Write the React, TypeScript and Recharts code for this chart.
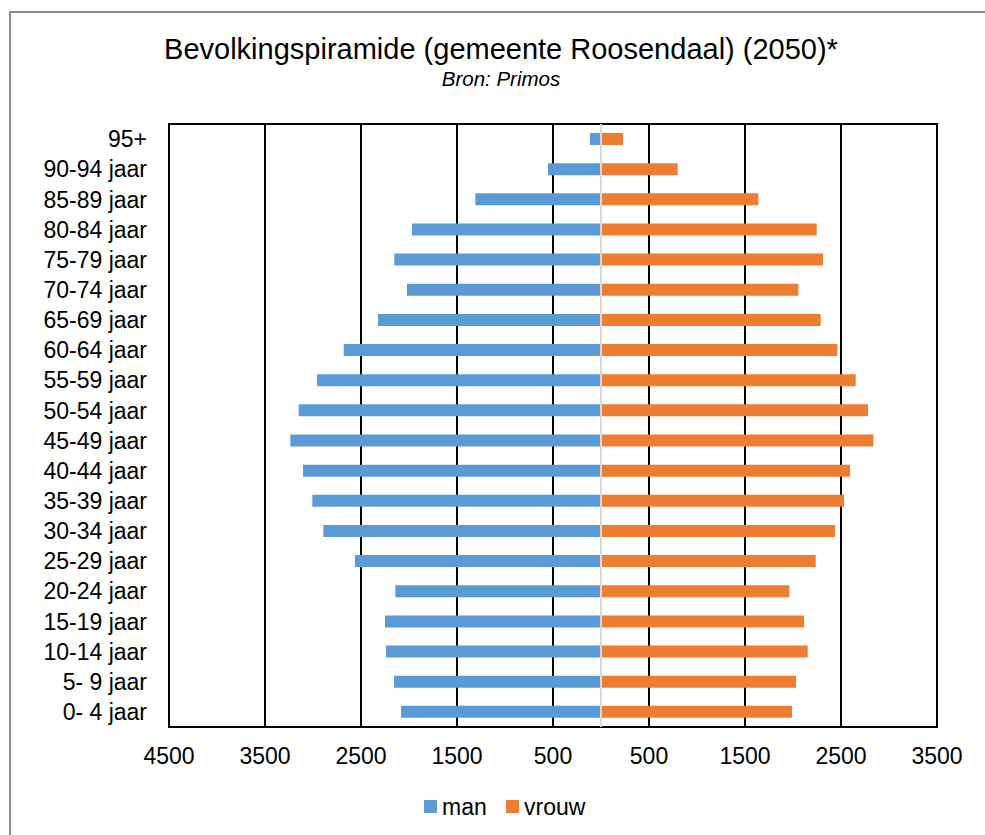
import React from 'react';
import { BarChart, Bar, XAxis, YAxis, CartesianGrid, ReferenceLine, ReferenceArea } from 'recharts';

// Leeftijdsgroepen, van jong naar oud
const ageGroups = [
  '0- 4 jaar', '5- 9 jaar', '10-14 jaar', '15-19 jaar', '20-24 jaar',
  '25-29 jaar', '30-34 jaar', '35-39 jaar', '40-44 jaar', '45-49 jaar',
  '50-54 jaar', '55-59 jaar', '60-64 jaar', '65-69 jaar', '70-74 jaar',
  '75-79 jaar', '80-84 jaar', '85-89 jaar', '90-94 jaar', '95+',
];

const manValues = [
  2083, 2156, 2240, 2250, 2142, 2563, 2892, 3007, 3104, 3236,
  3149, 2958, 2680, 2323, 2021, 2153, 1969, 1309, 552, 115,
];

const vrouwValues = [
  1990, 2031, 2153, 2115, 1962, 2236, 2438, 2531, 2594, 2837,
  2781, 2653, 2462, 2288, 2056, 2313, 2247, 1639, 799, 229,
];

const xTicks = [-4500, -3500, -2500, -1500, -500, 500, 1500, 2500, 3500];

const seriesNames = ['man', 'vrouw'];
const seriesColors = ['#5B9BD5', '#ED7D31'];

const FONT = '"Liberation Sans", Arial, sans-serif';

const data = ageGroups.map((age, i) => ({
  age,
  man: -manValues[i],
  vrouw: vrouwValues[i],
}));

const App: React.FC = () => {
  return (
    <div style={{ position: 'absolute', left: 0, top: 0, width: 985, height: 835, overflow: 'hidden', background: '#fff', fontFamily: FONT }}>
      <BarChart
        width={985}
        height={835}
        data={data}
        layout="vertical"
        stackOffset="sign"
        barSize={12}
        margin={{ top: 124, right: 48, bottom: 48, left: 19 }}
      >
        <CartesianGrid horizontal={false} stroke="#000" strokeWidth={2} />
        <XAxis
          type="number"
          domain={[-4500, 3500]}
          ticks={xTicks}
          tickFormatter={(v: number) => String(Math.abs(v))}
          axisLine={false}
          tickLine={false}
          tickSize={0}
          tickMargin={21}
          height={60}
          interval={0}
          tick={{ fontSize: 23, fill: '#000', fontFamily: FONT }}
        />
        <YAxis
          type="category"
          dataKey="age"
          reversed
          width={150}
          axisLine={false}
          tickLine={false}
          tickSize={0}
          tickMargin={22}
          interval={0}
          tick={{ fontSize: 23, fill: '#000', fontFamily: FONT }}
        />
        <Bar dataKey="man" stackId="a" fill={seriesColors[0]} isAnimationActive={false} />
        <Bar dataKey="vrouw" stackId="a" fill={seriesColors[1]} isAnimationActive={false} />
        <ReferenceLine x={0} stroke="#d9d9d9" strokeWidth={2} />
        <ReferenceArea x1={-4500} x2={3500} fill="none" stroke="#000" strokeWidth={2} fillOpacity={0} />
      </BarChart>

      <svg
        width={985}
        height={835}
        style={{ position: 'absolute', left: 0, top: 0, pointerEvents: 'none' }}
      >
        <path d="M10 835 L10 12 L985 12" fill="none" stroke="#8c8c8c" strokeWidth={2} />
        <text x={501} y={59} textAnchor="middle" fontSize={29} fontFamily={FONT} fill="#000">
          Bevolkingspiramide (gemeente Roosendaal) (2050)*
        </text>
        <text x={501} y={86} textAnchor="middle" fontSize={20.5} fontStyle="italic" fontFamily={FONT} fill="#000">
          Bron: Primos
        </text>
        {seriesNames.map((name, i) => {
          const x0 = i === 0 ? 424 : 506;
          return (
            <g key={name}>
              <rect x={x0} y={800} width={13} height={13} fill={seriesColors[i]} />
              <text x={x0 + 18} y={814.5} fontSize={23} fontFamily={FONT} fill="#000">
                {name}
              </text>
            </g>
          );
        })}
      </svg>
    </div>
  );
};

export default App;
